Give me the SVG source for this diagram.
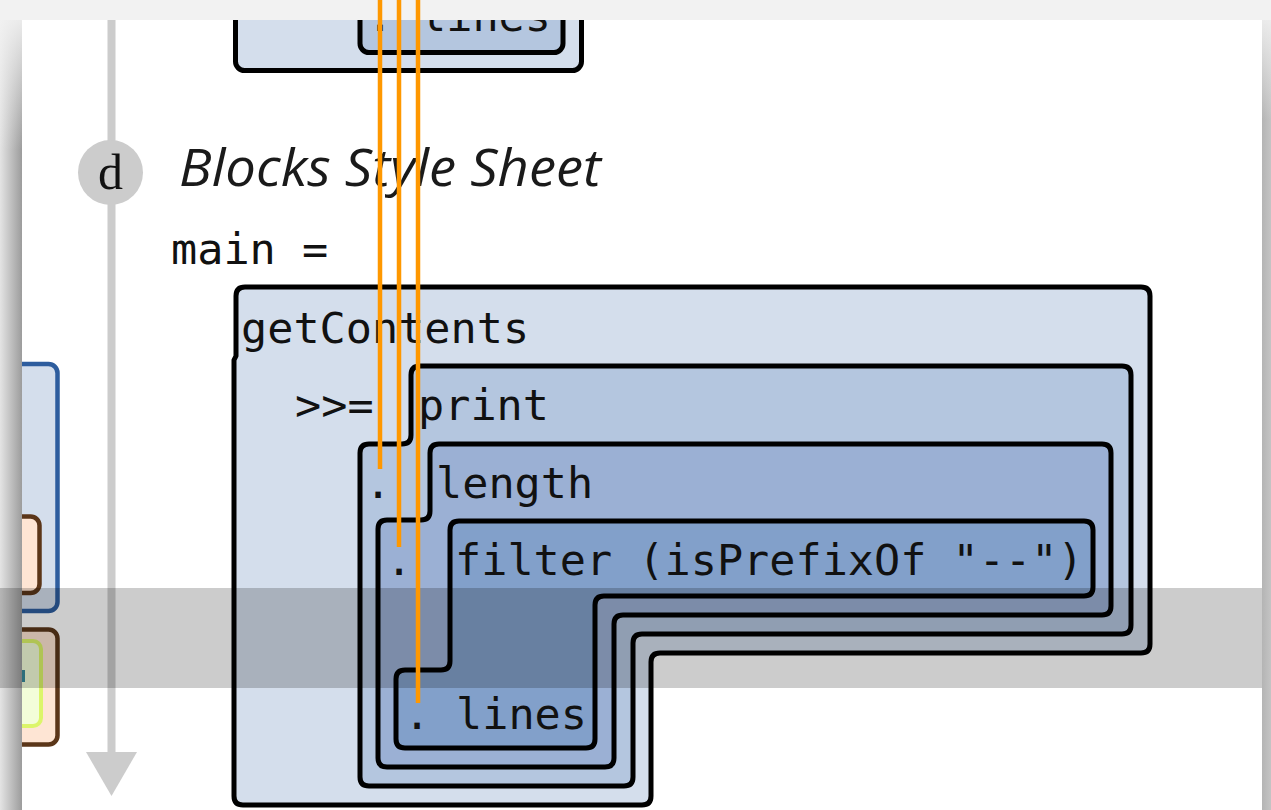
<svg xmlns="http://www.w3.org/2000/svg" width="1271" height="810" viewBox="0 0 1271 810">
  <defs>
    <style>
      .blk { stroke: #000; stroke-width: 5; stroke-linejoin: round; }
      .a { fill: #d4deec; }
      .b { fill: #b4c6df; }
      .c { fill: #9bb0d4; }
      .d { fill: #82a0ca; }
      .code { font-family: "DejaVu Sans Mono", "Liberation Mono", monospace; font-size: 43.5px; fill: #111; }
      .dot { text-anchor: middle; }
      .wire { stroke: #ff9800; stroke-width: 4.5; fill: none; }
      .timeline { fill: #cccccc; }
    </style>
    <linearGradient id="shadowLeft" x1="0" y1="0" x2="1" y2="0">
      <stop offset="0" stop-color="#e4e4e4"/>
      <stop offset="1" stop-color="#9c9c9c"/>
    </linearGradient>
    <linearGradient id="shadowRight" x1="0" y1="0" x2="1" y2="0">
      <stop offset="0" stop-color="#b4b4b4"/>
      <stop offset="1" stop-color="#c4c4c4"/>
    </linearGradient>
    <linearGradient id="fadeTop" x1="0" y1="0" x2="0" y2="1">
      <stop offset="0" stop-color="#f2f2f2" stop-opacity="1"/>
      <stop offset="0.15" stop-color="#f2f2f2" stop-opacity="0.9"/>
      <stop offset="1" stop-color="#f2f2f2" stop-opacity="0"/>
    </linearGradient>
    <clipPath id="page">
      <rect x="22" y="20" width="1240" height="790"/>
    </clipPath>
  </defs>

  <!-- surroundings of the page -->
  <rect x="0" y="0" width="1271" height="810" fill="#f2f2f2"/>
  <rect x="0" y="0" width="22" height="810" fill="url(#shadowLeft)"/>
  <rect x="1262" y="0" width="9" height="810" fill="url(#shadowRight)"/>
  <rect x="0" y="0" width="22" height="150" fill="url(#fadeTop)"/>
  <rect x="1262" y="0" width="9" height="120" fill="url(#fadeTop)"/>
  <rect x="0" y="0" width="1271" height="20" fill="#f2f2f2"/>

  <g clip-path="url(#page)">
    <rect x="22" y="20" width="1240" height="790" fill="#ffffff"/>

    <!-- timeline -->
    <g id="timeline">
      <rect class="timeline" x="107.5" y="20" width="8" height="736"/>
      <polygon class="timeline" points="86,752 137,752 111.5,796"/>
    </g>

    <!-- neighbouring boxes at the left margin -->
    <g id="side-boxes">
      <rect x="-40" y="364" width="97.5" height="247" rx="9" fill="#d4deec" stroke="#2e5d9e" stroke-width="4.5"/>
      <rect x="-40" y="516.5" width="79.5" height="76.5" rx="9" fill="#fee5d4" stroke="#5b3619" stroke-width="4.5"/>
      <rect x="-40" y="629.5" width="97.5" height="115" rx="9" fill="#fee5d4" stroke="#5b3619" stroke-width="4.5"/>
      <rect x="-40" y="641" width="81" height="85" rx="8" fill="#f3fdd9" stroke="#dcf56a" stroke-width="4"/>
      <rect x="22" y="670" width="3" height="12" fill="#3a8a9a"/>
    </g>

    <!-- previous example, tail end -->
    <g id="prev-block">
      <rect class="blk a" x="235.5" y="-40" width="346" height="110.5" rx="9"/>
      <rect class="blk b" x="360" y="-40" width="203" height="92.5" rx="9"/>
      <text class="code dot" x="380" y="31">.</text>
      <text class="code" x="420" y="31">lines</text>
    </g>

    <!-- section marker -->
    <g id="marker-d">
      <circle cx="110.5" cy="172.5" r="32.5" fill="#cccccc"/>
      <text x="110.5" y="189" text-anchor="middle" font-family="Liberation Serif, serif" font-size="50" fill="#111">d</text>
    </g>

    <g id="title">
      <text x="179" y="186" font-family="Open Sans, Noto Sans, sans-serif" font-style="italic" font-size="51" fill="#1a1a1a" textLength="422" lengthAdjust="spacingAndGlyphs">Blocks Style Sheet</text>
    </g>

    <g id="main-def">
      <text class="code" x="171" y="264">main =</text>
    </g>

    <!-- getContents >>= ... -->
    <g id="block-getContents">
      <path class="blk a" d="M 245 287 H 1141 Q 1150 287 1150 296 V 644 Q 1150 653 1141 653 H 660 Q 651 653 651 662 V 796 Q 651 805 642 805 H 243 Q 234 805 234 796 V 360 L 236 356 V 296 Q 236 287 245 287 Z"/>
      <text class="code" x="241" y="343">getContents</text>
      <text class="code" x="295" y="420">&gt;&gt;=</text>
    </g>

    <!-- print . ... -->
    <g id="block-print">
      <path class="blk b" d="M 420 366 H 1122 Q 1131 366 1131 375 V 625 Q 1131 634 1122 634 H 642 Q 633 634 633 643 V 777 Q 633 786 624 786 H 369 Q 360 786 360 777 V 453 Q 360 444 369 444 H 402 Q 411 444 411 435 V 375 Q 411 366 420 366 Z"/>
      <text class="code" x="418" y="420">print</text>
      <text class="code dot" x="378" y="498">.</text>
    </g>

    <!-- length . ... -->
    <g id="block-length">
      <path class="blk c" d="M 439 444 H 1102 Q 1111 444 1111 453 V 606 Q 1111 615 1102 615 H 623 Q 614 615 614 624 V 758 Q 614 767 605 767 H 387 Q 378 767 378 758 V 529 Q 378 520 387 520 H 421 Q 430 520 430 511 V 453 Q 430 444 439 444 Z"/>
      <text class="code" x="436" y="498">length</text>
      <text class="code dot" x="399" y="575">.</text>
    </g>

    <!-- filter ... . lines -->
    <g id="block-filter">
      <path class="blk d" d="M 459 521 H 1084 Q 1093 521 1093 530 V 587 Q 1093 596 1084 596 H 604 Q 595 596 595 605 V 739 Q 595 748 586 748 H 405 Q 396 748 396 739 V 679 Q 396 670 405 670 H 441 Q 450 670 450 661 V 530 Q 450 521 459 521 Z"/>
      <text class="code" x="455" y="575">filter (isPrefixOf "--")</text>
      <text class="code dot" x="417" y="729">.</text>
      <text class="code" x="456" y="729">lines</text>
    </g>
  </g>

  <!-- highlight band -->
  <rect id="band" x="0" y="588" width="1262" height="100" fill="#000" fill-opacity="0.2"/>

  <!-- pointers into the composition chain -->
  <g id="connectors">
    <line class="wire" x1="380" y1="0" x2="380" y2="469"/>
    <line class="wire" x1="399" y1="0" x2="399" y2="547"/>
    <line class="wire" x1="418" y1="0" x2="418" y2="703"/>
  </g>
</svg>
